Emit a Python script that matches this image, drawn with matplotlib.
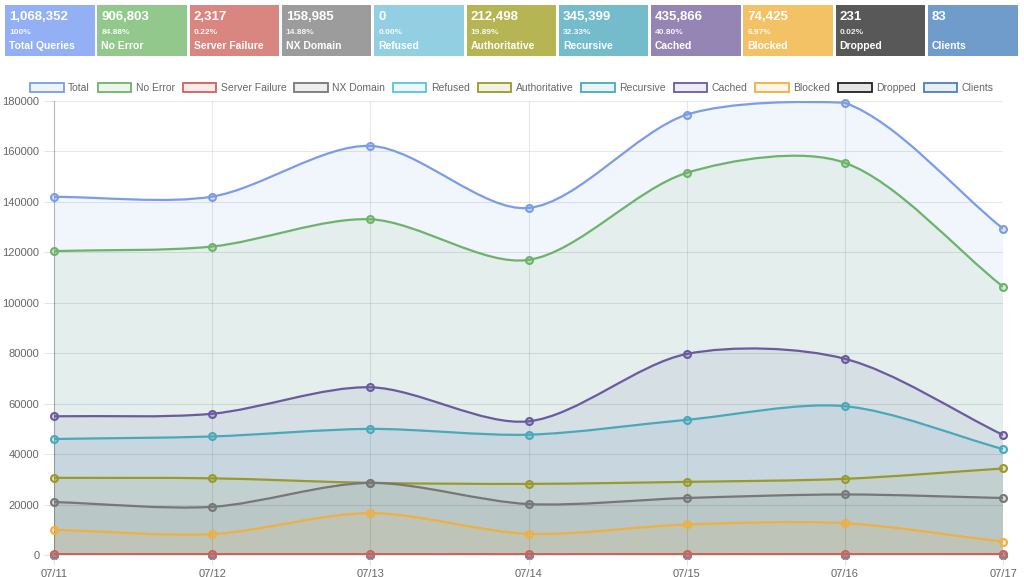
import matplotlib
matplotlib.use("Agg")
import matplotlib.pyplot as plt
import numpy as np
from matplotlib.path import Path
from matplotlib.patches import PathPatch, Rectangle, Patch

plt.rcParams['font.family'] = ['Liberation Sans', 'DejaVu Sans']

# ---- data ----
dates = ['07/11', '07/12', '07/13', '07/14', '07/15', '07/16', '07/17']

total = [142000, 142100, 162200, 137600, 174600, 179300, 129400]
no_error = [120500, 122300, 133100, 117000, 151500, 155500, 106400]
server_failure = [320, 340, 330, 310, 350, 330, 337]
nx_domain = [21000, 19100, 28600, 20200, 22600, 24000, 22600]
refused = [0, 0, 0, 0, 0, 0, 0]
authoritative = [30600, 30400, 28600, 28200, 29000, 30200, 34300]
recursive = [46000, 47000, 50000, 47700, 53600, 59000, 42000]
cached = [55000, 56000, 66500, 53000, 79700, 77800, 47600]
blocked = [10000, 8300, 16600, 8400, 12100, 12600, 5300]
dropped = [30, 35, 40, 30, 35, 31, 30]
clients = [12, 12, 12, 12, 12, 12, 11]

series_names = ['Total', 'No Error', 'Server Failure', 'NX Domain', 'Refused',
                'Authoritative', 'Recursive', 'Cached', 'Blocked', 'Dropped', 'Clients']
series_values = [total, no_error, server_failure, nx_domain, refused,
                 authoritative, recursive, cached, blocked, dropped, clients]
line_colors = ['#7b9de8', '#6db36b', '#d0605a', '#777777', '#5bc0de',
               '#9a9a2a', '#4aa8bb', '#6b5b9e', '#f0b040', '#222222', '#4a80bd']

card_values = ['1,068,352', '906,803', '2,317', '158,985', '0', '212,498',
               '345,399', '435,866', '74,425', '231', '83']
card_pcts = ['100%', '84.88%', '0.22%', '14.88%', '0.00%', '19.89%',
             '32.33%', '40.80%', '6.97%', '0.02%', '']
card_labels = ['Total Queries', 'No Error', 'Server Failure', 'NX Domain', 'Refused',
               'Authoritative', 'Recursive', 'Cached', 'Blocked', 'Dropped', 'Clients']
card_colors = ['#94b0f5', '#93c88d', '#d98580', '#9c9c9c', '#93cfe3', '#b5b553',
               '#74bccb', '#9585b4', '#f3c264', '#585858', '#6f9ccb']

W, H = 1024, 577
fig = plt.figure(figsize=(W / 100, H / 100), dpi=100)

# ---- stat cards along the top ----
top = fig.add_axes([0, 0, 1, 1])
top.set_xlim(0, W)
top.set_ylim(H, 0)
top.axis('off')
for i in range(len(card_values)):
    x0 = 5 + i * 92.3
    top.add_patch(Rectangle((x0, 5), 89.5, 51, color=card_colors[i], lw=0))
    top.text(x0 + 4, 17, card_values[i], color='white', fontsize=9.5,
             fontweight='bold', va='center', ha='left')
    top.text(x0 + 4, 32.5, card_pcts[i], color='white', fontsize=6,
             fontweight='bold', va='center', ha='left', alpha=0.9)
    top.text(x0 + 4, 46, card_labels[i], color='white', fontsize=7.5,
             fontweight='bold', va='center', ha='left')

# ---- main chart ----
ax_l, ax_r, ax_b, ax_t = 54, 1003, 555, 101
ax = fig.add_axes([ax_l / W, 1 - ax_b / H, (ax_r - ax_l) / W, (ax_b - ax_t) / H])
ymax = 180000
ax.set_xlim(0, len(dates) - 1)
ax.set_ylim(0, ymax)

sx = (ax_r - ax_l) / (len(dates) - 1)
sy = (ax_b - ax_t) / ymax


def spline_path(ys, t=0.3, closed=False):
    # chart.js style bezier, control points from pixel distances
    xs = np.arange(len(ys), dtype=float)
    ys = np.asarray(ys, dtype=float)
    px, py = xs * sx, ys * sy
    n = len(ys)
    cp_prev, cp_next = [], []
    for i in range(n):
        a = max(i - 1, 0)
        b = min(i + 1, n - 1)
        d01 = np.hypot(px[i] - px[a], py[i] - py[a])
        d12 = np.hypot(px[b] - px[i], py[b] - py[i])
        tot = d01 + d12
        s01 = d01 / tot if tot else 0
        s12 = d12 / tot if tot else 0
        fa, fb = t * s01, t * s12
        cp_prev.append((px[i] - fa * (px[b] - px[a]), py[i] - fa * (py[b] - py[a])))
        cp_next.append((px[i] + fb * (px[b] - px[a]), py[i] + fb * (py[b] - py[a])))
    verts = [(xs[0], ys[0])]
    codes = [Path.MOVETO]
    for i in range(n - 1):
        c1 = (cp_next[i][0] / sx, min(max(cp_next[i][1] / sy, 0), ymax))
        c2 = (cp_prev[i + 1][0] / sx, min(max(cp_prev[i + 1][1] / sy, 0), ymax))
        verts += [c1, c2, (xs[i + 1], ys[i + 1])]
        codes += [Path.CURVE4] * 3
    if closed:
        verts += [(xs[-1], 0), (xs[0], 0), (xs[0], ys[0])]
        codes += [Path.LINETO, Path.LINETO, Path.CLOSEPOLY]
    return Path(verts, codes)


nser = len(series_values)
for k, (vals, col) in enumerate(zip(series_values, line_colors)):
    ax.add_patch(PathPatch(spline_path(vals, closed=True), facecolor=col,
                           alpha=0.1, lw=0, zorder=1))

# first dataset drawn on top, like chart.js
for k, (vals, col) in enumerate(zip(series_values, line_colors)):
    z = 3 + (nser - k) * 0.01
    ax.add_patch(PathPatch(spline_path(vals), facecolor='none', edgecolor=col,
                           lw=1.6, zorder=z))
    ax.plot(range(len(dates)), vals, 'o', ms=5, mfc=matplotlib.colors.to_rgba(col, 0.25),
            mec=col, mew=1.5, zorder=z + 0.005, clip_on=False)

grid_col = (0, 0, 0, 0.1)
ax.set_xticks(range(len(dates)))
ax.set_xticklabels(dates)
ax.set_yticks(np.arange(0, ymax + 1, 20000))
ax.set_yticklabels([str(v) for v in range(0, ymax + 1, 20000)])
ax.set_axisbelow(False)
ax.grid(True, color='black', alpha=0.09, lw=0.8, zorder=2)
ax.tick_params(axis='both', colors=grid_col, labelcolor='#666666', labelsize=8,
               length=7, width=0.8)
ax.tick_params(axis='x', pad=3)
for s in ['top', 'right']:
    ax.spines[s].set_visible(False)
ax.spines['left'].set_color((0, 0, 0, 0.2))
ax.spines['bottom'].set_color(grid_col)

# ---- legend ----
handles = [Patch(facecolor=matplotlib.colors.to_rgba(c, 0.12), edgecolor=c, lw=1.3)
           for c in line_colors]
fig.legend(handles, series_names, loc='center', bbox_to_anchor=(0.5, 1 - 88 / H),
           ncol=len(series_names), frameon=False, fontsize=7.5, labelcolor='#666666',
           handlelength=3.2, handleheight=0.85, handletextpad=0.45, columnspacing=0.75)

fig.savefig('out.png', dpi=100)
